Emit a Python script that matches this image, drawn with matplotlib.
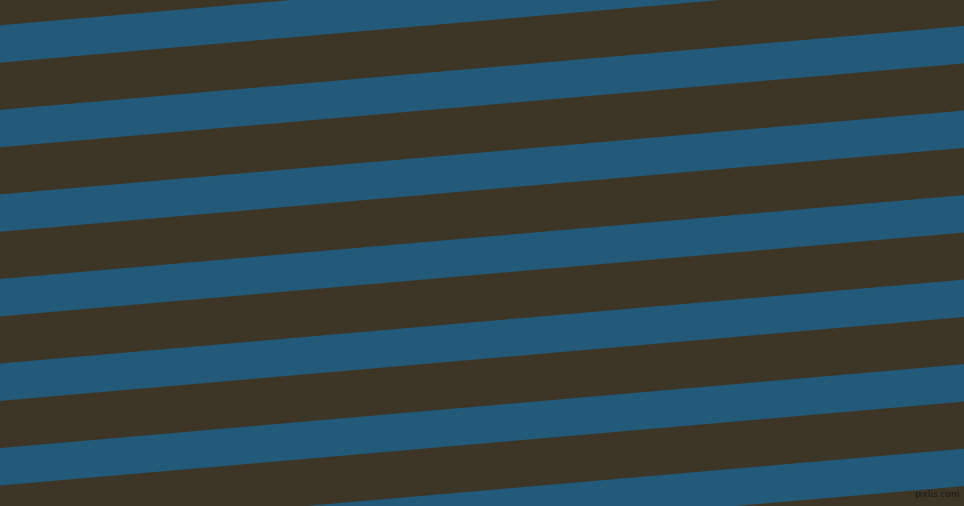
import numpy as np
import matplotlib
matplotlib.use('Agg')
import matplotlib.pyplot as plt

# ---------------- data (pixel units) ----------------
band_tops_left = [25.3, 109.9, 194.4, 279.0, 363.5, 448.1, 532.6]  # top edge of each blue band at x=0
band_height = 37.4                                                # vertical thickness of a blue band
slope = -0.087                                                    # rise per pixel to the right

W, H = 964, 506
brown = '#3d3525'
blue = '#235a79'

# tiny epsilon so the pixel size rounds to exactly 964x506
fig = plt.figure(figsize=(W / 100 + 1e-4, H / 100 + 1e-4), dpi=100)
ax = fig.add_axes([0, 0, 1, 1])
ax.set_facecolor(brown)
fig.patch.set_facecolor(brown)

xs = np.array([0, W])
for top in band_tops_left:
    y0 = top + slope * xs
    ax.fill_between(xs, y0, y0 + band_height, color=blue, lw=0)

ax.set_xlim(0, W)
ax.set_ylim(H, 0)
ax.axis('off')

ax.text(960, 494, 'pixlis.com', color='#1a1a1a', fontsize=6.5,
        ha='right', va='center', family='DejaVu Sans')

fig.savefig('out.png', dpi=100, facecolor=brown)
